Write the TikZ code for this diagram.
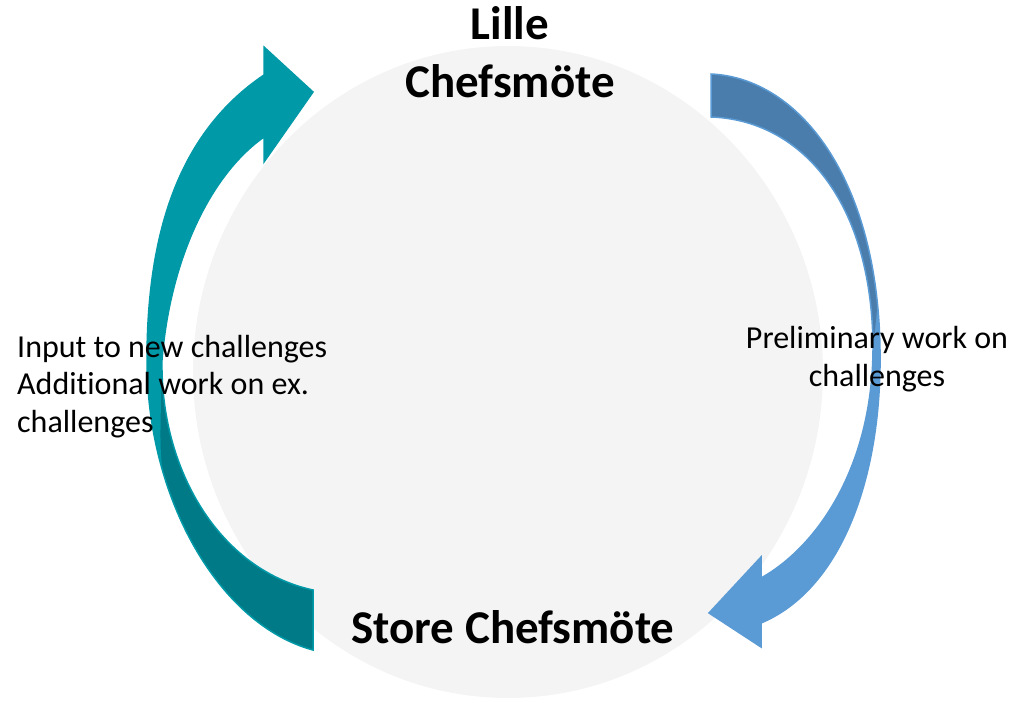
\documentclass[tikz,border=0pt]{standalone}
\usepackage{fontspec}
\setmainfont[Ligatures=NoCommon]{Carlito}
\usetikzlibrary{calc}

\definecolor{circlegray}{HTML}{F4F4F4}
\definecolor{tealA}{HTML}{0099A8}
\definecolor{tealB}{HTML}{007A87}
\definecolor{blueA}{HTML}{4A7DAB}
\definecolor{blueB}{HTML}{5B9BD5}

% outlines of the two curved arrows
\newcommand{\tealband}{(313,650) .. controls (220,625) and (147,500) .. (147,360)
  .. controls (147,240) and (175,135) .. (264,75) -- (264,47) -- (313,92) -- (264,162) -- (264,137)
  .. controls (210,175) and (170,260) .. (162,360) .. controls (160,470) and (220,570) .. (313,590) -- cycle}
\newcommand{\blueband}{(711,74) .. controls (800,78) and (878,180) .. (880,350)
  .. controls (882,480) and (840,590) .. (761,623) -- (761,647) -- (709,613) -- (761,557) -- (761,578)
  .. controls (815,548) and (872,470) .. (873,350) .. controls (873,200) and (800,120) .. (711,117) -- cycle}

\begin{document}
\begin{tikzpicture}[x=1pt,y=-1pt,
    title/.style={font=\fontsize{47}{58}\selectfont\bfseries,align=center,inner sep=0pt},
    note/.style={font=\fontsize{32}{37.5}\selectfont,inner sep=0pt}]
  \useasboundingbox (0,0) rectangle (1015,702);
  \fill[circlegray] (508,372) ellipse [x radius=315,y radius=326];
  % left arrow: dark back side, light front side
  \fill[tealB] \tealband;
  \begin{scope}
    \clip \tealband;
    \fill[tealA] (100,0) -- (340,0) -- (340,360) -- (162,360) -- (161,400) .. controls (160,450) .. (165,495) -- (100,560) -- cycle;
  \end{scope}
  \draw[tealA,line width=1.5] \tealband;
  % right arrow: dark back side, light front side
  \fill[blueB] \blueband;
  \begin{scope}
    \clip \blueband;
    \fill[blueA] (690,0) -- (900,0) -- (900,290) -- (879,290) .. controls (876,315) .. (874,340) -- (690,340) -- cycle;
  \end{scope}
  \draw[blueB,line width=1.5] \blueband;
  % labels
  \node[title] (lille) at (510,52) {Lille\\Chefsmöte};
  \node[title,anchor=base] (store) at (513,643) {Store Chefsmöte};
  \node[note,align=left,anchor=north west] (input) at (17,335) {Input to new challenges\\Additional work on ex.\\challenges};
  \node[note,align=center] (prelim) at (877,359) {Preliminary work on\\challenges};
\end{tikzpicture}
\end{document}
